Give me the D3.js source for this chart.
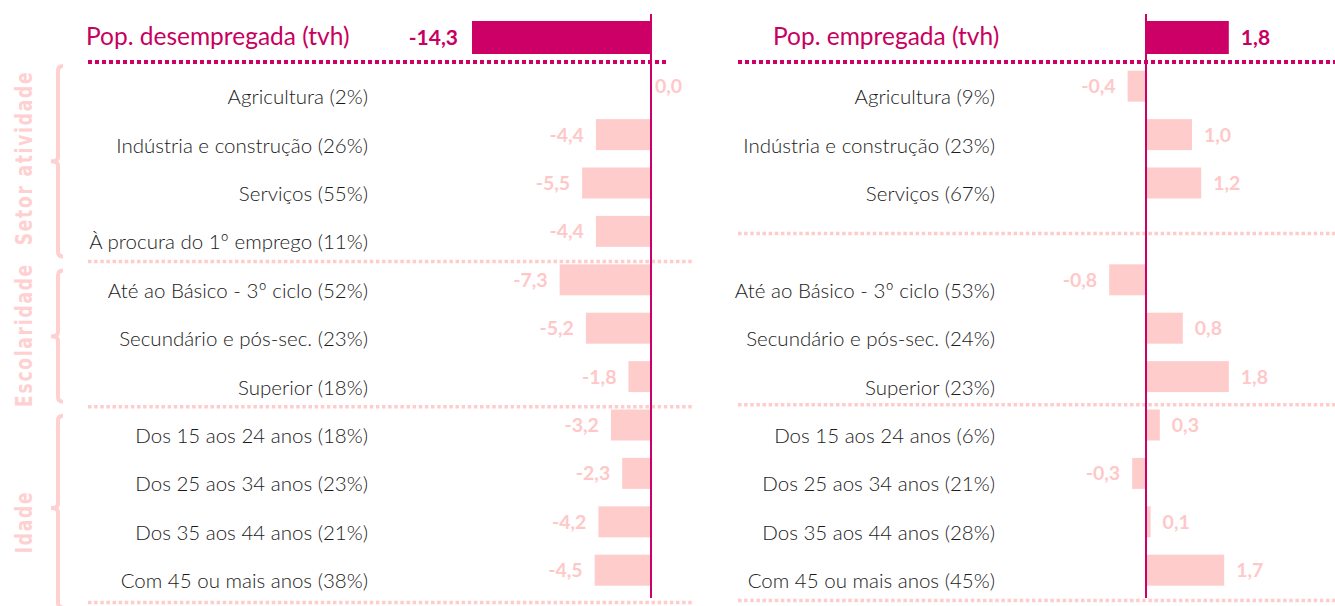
<!DOCTYPE html>
<html lang="pt">
  <head>
    <meta charset="utf-8">
    <title>Pop. desempregada e empregada (tvh)</title>
    <script src="https://d3js.org/d3.v7.min.js"></script>
    <style>
      body { margin: 0; background: #fff; }
      svg { display: block; }
      .cat { font-family: Lato, sans-serif; font-weight: 300; font-size: 20.5px; fill: #1a1a1a; }
      .val { font-family: Lato, sans-serif; font-weight: 700; font-size: 19.5px; fill: #ffc8c8; }
      .title { font-family: Lato, sans-serif; font-size: 24.5px; fill: #c8005f; }
      .total { font-family: Lato, sans-serif; font-weight: 700; font-size: 21px; fill: #c8005f; }
      .group { font-family: "DejaVu Sans", sans-serif; font-weight: 700; font-size: 17px; fill: #ffd0d0; letter-spacing: 1.8px; }
    </style>
  </head>
  <body>
    <script>
      // data
      const leftTitle = 'Pop. desempregada (tvh)';
      const leftTotal = -14.3;
      const leftCategories = ['Agricultura (2%)', 'Indústria e construção (26%)', 'Serviços (55%)',
        'À procura do 1º emprego (11%)', 'Até ao Básico - 3º ciclo (52%)', 'Secundário e pós-sec. (23%)',
        'Superior (18%)', 'Dos 15 aos 24 anos (18%)', 'Dos 25 aos 34 anos (23%)',
        'Dos 35 aos 44 anos (21%)', 'Com 45 ou mais anos (38%)'];
      const leftValues = [0.0, -4.4, -5.5, -4.4, -7.3, -5.2, -1.8, -3.2, -2.3, -4.2, -4.5];

      const rightTitle = 'Pop. empregada (tvh)';
      const rightTotal = 1.8;
      const rightCategories = ['Agricultura (9%)', 'Indústria e construção (23%)', 'Serviços (67%)',
        '', 'Até ao Básico - 3º ciclo (53%)', 'Secundário e pós-sec. (24%)',
        'Superior (23%)', 'Dos 15 aos 24 anos (6%)', 'Dos 25 aos 34 anos (21%)',
        'Dos 35 aos 44 anos (28%)', 'Com 45 ou mais anos (45%)'];
      const rightValues = [-0.4, 1.0, 1.2, null, -0.8, 0.8, 1.8, 0.3, -0.3, 0.1, 1.7];

      const groups = ['Setor atividade', 'Escolaridade', 'Idade'];
      const groupFirst = [0, 4, 7];
      const groupLast = [3, 6, 10];

      const w = 1335, h = 606;
      const magenta = '#cc0066';
      const pink = '#ffcccc';
      const fmt = v => d3.format('.1f')(v).replace('.', ',').replace('−', '-');

      const svg = d3.select('body').append('svg')
        .attr('width', w)
        .attr('height', h);

      const y = d3.scaleBand()
        .domain(d3.range(leftCategories.length))
        .range([62, 594.4])
        .paddingInner(0.36)
        .paddingOuter(0.18);
      const yc = i => y(i) + y.bandwidth() / 2;
      const sepY = i => yc(i) + y.step() / 2 + 6;

      function dotted(x1, x2, yy, color, sw) {
        svg.append('line')
          .attr('x1', x1).attr('x2', x2)
          .attr('y1', yy).attr('y2', yy)
          .attr('stroke', color)
          .attr('stroke-width', sw)
          .attr('stroke-dasharray', sw + ' ' + (sw * 0.75));
      }

      function panel(opt) {
        const x = opt.x;
        const x0 = x(0);

        // separators
        dotted(opt.left, opt.sepRight[0], 62, magenta, 4);
        opt.seps.forEach(s => dotted(opt.left, opt.sepRight[1], s, pink, 3.5));

        // header bar
        svg.append('rect')
          .attr('x', Math.min(x(opt.total), x0))
          .attr('y', 21)
          .attr('width', Math.abs(x(opt.total) - x0))
          .attr('height', 33)
          .attr('fill', magenta);

        svg.append('text')
          .attr('class', 'title')
          .attr('x', opt.titleX)
          .attr('y', 45)
          .text(opt.title);

        svg.append('text')
          .attr('class', 'total')
          .attr('x', opt.total < 0 ? x(opt.total) - 14 : x(opt.total) + 12)
          .attr('y', 45)
          .attr('text-anchor', opt.total < 0 ? 'end' : 'start')
          .text(fmt(opt.total));

        const rows = opt.values.map((v, i) => ({ v, i, c: opt.categories[i] }));

        svg.append('g').selectAll('rect')
          .data(rows.filter(d => d.v !== null))
          .enter()
          .append('rect')
            .attr('x', d => Math.min(x(d.v), x0))
            .attr('y', d => y(d.i))
            .attr('width', d => Math.abs(x(d.v) - x0))
            .attr('height', y.bandwidth())
            .attr('fill', pink);

        svg.append('g').selectAll('text')
          .data(rows.filter(d => d.v !== null))
          .enter()
          .append('text')
            .attr('class', 'val')
            .attr('x', d => d.v < 0 ? x(d.v) - 12 : x(d.v) + (d.v === 0 ? 4 : 12))
            .attr('y', d => yc(d.i) + 7)
            .attr('text-anchor', d => d.v < 0 ? 'end' : 'start')
            .text(d => fmt(d.v));

        svg.append('g').selectAll('text')
          .data(rows.filter(d => d.c !== ''))
          .enter()
          .append('text')
            .attr('class', 'cat')
            .attr('x', opt.labelX)
            .attr('y', d => yc(d.i) + 18)
            .attr('text-anchor', 'end')
            .text(d => d.c);

        // zero line
        svg.append('line')
          .attr('x1', x0).attr('x2', x0)
          .attr('y1', 14).attr('y2', 598)
          .attr('stroke', magenta)
          .attr('stroke-width', 2);
      }

      panel({
        x: d3.scaleLinear().domain([-14.3, 0]).range([472, 651]),
        total: leftTotal, title: leftTitle, titleX: 86,
        values: leftValues, categories: leftCategories,
        labelX: 368, left: 88, sepRight: [668, 692],
        seps: [sepY(3), sepY(6), sepY(10) + 2]
      });

      panel({
        x: d3.scaleLinear().domain([0, 1]).range([1146, 1192]),
        total: rightTotal, title: rightTitle, titleX: 773,
        values: rightValues, categories: rightCategories,
        labelX: 995, left: 738, sepRight: [1335, 1335],
        seps: [yc(3) + 2, sepY(6) - 2, sepY(10)]
      });

      // group brackets and labels
      const labelMid = [158, 335, 522];
      groups.forEach((g, k) => {
        const top = k === 0 ? 66 : sepY(groupFirst[k] - 1) + 9;
        const bot = sepY(groupLast[k]) - 5 + (k === 2 ? 12 : 0);
        const mid = k === 2 ? (top + sepY(groupLast[k])) / 2 : (top + bot) / 2;
        const bx = 58;
        svg.append('path')
          .attr('d', `M${bx + 5},${top} Q${bx},${top} ${bx},${top + 5} L${bx},${mid - 4} ` +
                     `Q${bx},${mid} ${bx - 7},${mid} Q${bx},${mid} ${bx},${mid + 4} ` +
                     `L${bx},${bot - 5} Q${bx},${bot} ${bx + 5},${bot}`)
          .attr('fill', 'none')
          .attr('stroke', '#ffd0d0')
          .attr('stroke-width', 4);

        svg.append('text')
          .attr('class', 'group')
          .attr('transform', `translate(32, ${labelMid[k]}) rotate(-90) scale(1, 1.4)`)
          .attr('text-anchor', 'middle')
          .text(g);
      });
    </script>
  </body>
</html>
